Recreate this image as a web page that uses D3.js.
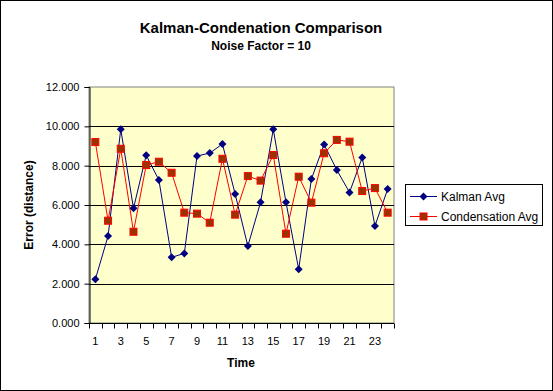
<!DOCTYPE html>
<html><head><meta charset="utf-8">
<script src="https://cdn.jsdelivr.net/npm/d3@7"></script>
<style>body{margin:0;background:#fff}svg{display:block;font-family:"Liberation Sans",Arial,sans-serif}</style>
</head><body>
<script>
const categories = d3.range(1, 25);
const kalman = [2.22,4.42,9.85,5.83,8.53,7.27,3.34,3.54,8.49,8.64,9.10,6.56,3.91,6.14,9.85,6.14,2.73,7.32,9.08,7.78,6.64,8.42,4.93,6.81];
const condensation = [9.20,5.20,8.86,4.64,8.03,8.20,7.64,5.61,5.56,5.10,8.35,5.51,7.47,7.24,8.54,4.54,7.44,6.12,8.63,9.31,9.22,6.71,6.86,5.61];
const yTicks = [0,2,4,6,8,10,12];
const seriesNames = ["Kalman Avg","Condensation Avg"];

const W=553,H=391;
const svg=d3.select("body").append("svg").attr("width",W).attr("height",H);
svg.append("rect").attr("x",0.5).attr("y",0.5).attr("width",W-1).attr("height",H-1).attr("fill","#fff").attr("stroke","#000");

const L=89,R=394,T=87,B=323;
const x=d3.scaleBand().domain(categories).range([L,R]);
const y=d3.scaleLinear().domain([0,12]).range([B,T]);

svg.append("rect").attr("x",L).attr("y",T).attr("width",R-L).attr("height",B-T).attr("fill","#FFFFCC").attr("stroke","#808080");

svg.append("g").selectAll("line").data(yTicks.filter(d=>d>0&&d<12)).join("line")
 .attr("x1",L).attr("x2",R).attr("y1",d=>Math.round(y(d))+0.5).attr("y2",d=>Math.round(y(d))+0.5).attr("stroke","#000");

// y axis
const ya=svg.append("g").attr("transform",`translate(${L+0.5},0)`)
 .call(d3.axisLeft(y).tickValues(yTicks).tickFormat(d3.format(".3f")).tickSizeOuter(0).tickSize(5));
ya.select(".domain").attr("stroke","#000");
ya.selectAll("text").attr("font-size",11).attr("fill","#000").attr("dx",-2);
ya.selectAll("line").attr("stroke","#000");

// x axis
const xa=svg.append("g").attr("transform",`translate(0,${B+0.5})`);
xa.append("line").attr("x1",L).attr("x2",R).attr("stroke","#000");
xa.selectAll("line.t").data(categories.concat([25])).join("line").attr("class","t")
 .attr("x1",d=>Math.round(d===25?R:x(d))+0.5).attr("x2",d=>Math.round(d===25?R:x(d))+0.5).attr("y1",0).attr("y2",5).attr("stroke","#000");
xa.selectAll("text").data(categories.filter(d=>d%2===1)).join("text")
 .attr("x",d=>x(d)+x.bandwidth()/2).attr("y",21).attr("text-anchor","middle").attr("font-size",11).text(d=>d);

const cx=d=>x(d)+x.bandwidth()/2;
const line=d3.line().x((v,i)=>cx(categories[i])).y(v=>y(v));
svg.append("path").attr("d",line(kalman)).attr("fill","none").attr("stroke","#000080").attr("stroke-width",1);
svg.append("path").attr("d",line(condensation)).attr("fill","none").attr("stroke","#FF0000").attr("stroke-width",1);

const diamond=(g,px,py)=>g.append("path").attr("d",`M${px},${py-4}L${px+4},${py}L${px},${py+4}L${px-4},${py}Z`).attr("fill","#000080");
const square=(g,px,py)=>g.append("rect").attr("x",px-3.5).attr("y",py-3.5).attr("width",7).attr("height",7).attr("fill","#993300").attr("stroke","#FF0000");

const mk=svg.append("g");
condensation.forEach((v,i)=>square(mk,cx(categories[i]),y(v)));
kalman.forEach((v,i)=>diamond(mk,cx(categories[i]),y(v)));

// titles
svg.append("text").attr("x",261).attr("y",33).attr("text-anchor","middle").attr("font-size",15).attr("font-weight","bold").text("Kalman-Condenation Comparison");
svg.append("text").attr("x",261).attr("y",50).attr("text-anchor","middle").attr("font-size",12).attr("font-weight","bold").text("Noise Factor = 10");
svg.append("text").attr("x",241).attr("y",367).attr("text-anchor","middle").attr("font-size",12).attr("font-weight","bold").text("Time");
svg.append("text").attr("transform",`translate(33,${(T+B)/2}) rotate(-90)`).attr("text-anchor","middle").attr("font-size",12).attr("font-weight","bold").text("Error (distance)");

// legend
const lg=svg.append("g");
lg.append("rect").attr("x",405.5).attr("y",184.5).attr("width",137).attr("height",41).attr("fill","#fff").attr("stroke","#000");
const colors=["#000080","#FF0000"];
seriesNames.forEach((n,i)=>{
  const yy=196+i*20;
  lg.append("line").attr("x1",410).attr("x2",437).attr("y1",yy+0.5).attr("y2",yy+0.5).attr("stroke",colors[i]);
  if(i===0) diamond(lg,423.5,yy+0.5); else square(lg,423.5,yy+0.5);
  lg.append("text").attr("x",441).attr("y",yy+4.5).attr("font-size",12).text(n);
});
</script>
</body></html>
